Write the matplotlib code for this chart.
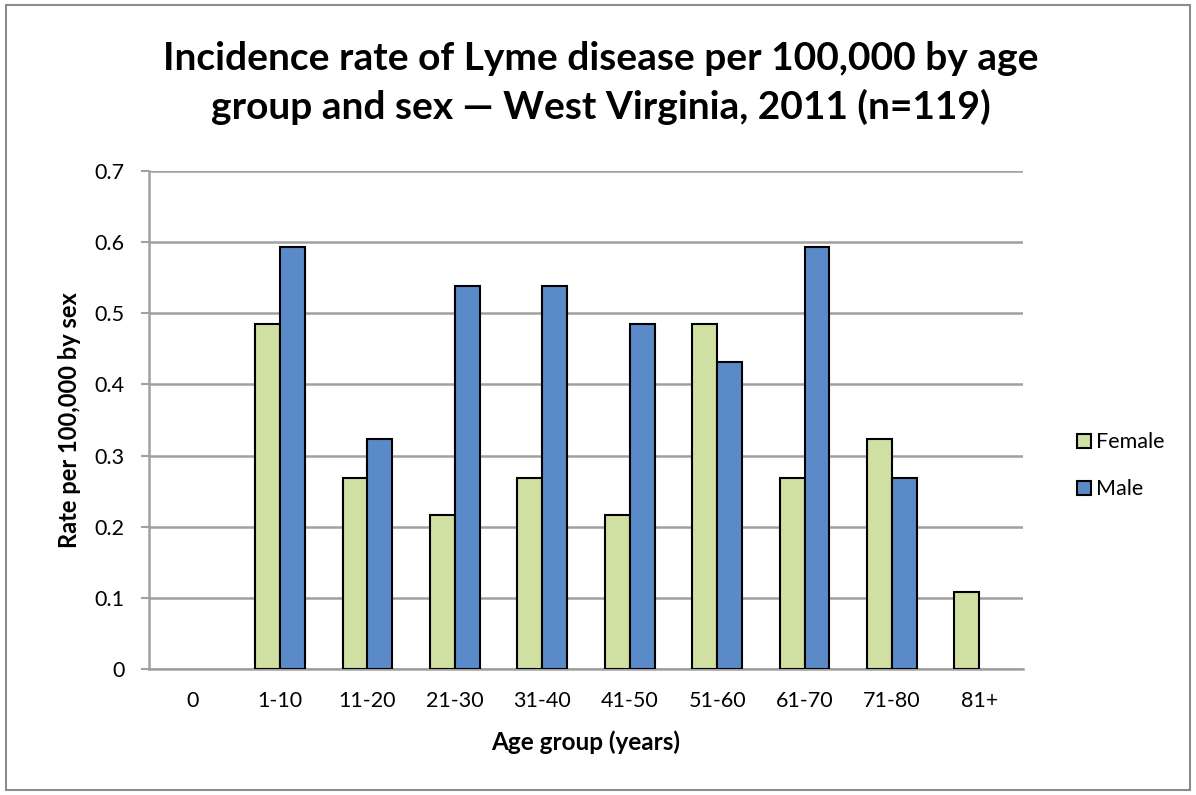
import matplotlib
matplotlib.use("Agg")
import matplotlib.pyplot as plt
import numpy as np
from matplotlib.patches import Rectangle, Patch

# rates per 100,000
age_groups = ['0', '1-10', '11-20', '21-30', '31-40', '41-50', '51-60', '61-70', '71-80', '81+']
female = [0, 0.485, 0.269, 0.216, 0.269, 0.216, 0.485, 0.269, 0.323, 0.108]
male = [0, 0.593, 0.323, 0.539, 0.539, 0.485, 0.431, 0.593, 0.269, 0]
y_ticks = [0, 0.1, 0.2, 0.3, 0.4, 0.5, 0.6, 0.7]
y_tick_labels = ['0', '0.1', '0.2', '0.3', '0.4', '0.5', '0.6', '0.7']
title_lines = ['Incidence rate of Lyme disease per 100,000 by age',
               'group and sex \u2014 West Virginia, 2011 (n=119)']

plt.rcParams['font.family'] = ['Lato', 'DejaVu Sans']

fig = plt.figure(figsize=(11.96, 7.95), dpi=100)
# outer frame like the excel chart area
fig.patches.append(Rectangle((6/1196, 5/795), 1184/1196, 785/795, transform=fig.transFigure,
                             fill=False, edgecolor='#8c8c8c', linewidth=1.5))

ax = fig.add_axes([149/1196, 1 - 669/795, 874/1196, 498/795])

x = np.arange(len(age_groups))
w = 0.286
fc = '#CFE0A2'
mc = '#5A8AC8'
# no outline on empty bars
flw = [1.5 if v > 0 else 0 for v in female]
mlw = [1.5 if v > 0 else 0 for v in male]
ax.bar(x - w/2, female, w, color=fc, edgecolor='black', linewidth=flw, zorder=3)
ax.bar(x + w/2, male, w, color=mc, edgecolor='black', linewidth=mlw, zorder=3)

ax.set_xlim(-0.5, len(age_groups) - 0.5)
ax.set_ylim(0, 0.7)
ax.set_yticks(y_ticks)
ax.set_yticklabels(y_tick_labels, fontsize=15.5)
ax.set_xticks(x)
ax.set_xticklabels(age_groups, fontsize=15.5)
ax.tick_params(axis='x', length=0, pad=16)
ax.tick_params(axis='y', length=5.5, width=1.5, color='#a0a0a0', pad=12)
ax.yaxis.grid(True, color='#a0a0a0', linewidth=1.8, zorder=0)
for s in ['top', 'right']:
    ax.spines[s].set_visible(False)
for s in ['left', 'bottom']:
    ax.spines[s].set_color('#a0a0a0')
    ax.spines[s].set_linewidth(1.8)

ax.set_xlabel('Age group (years)', fontsize=17.5, fontweight='bold', labelpad=14)
ax.set_ylabel('Rate per 100,000 by sex', fontsize=17, fontweight='bold', labelpad=10)

# two title lines placed separately to match the spacing
fig.text(0.5025, 1 - 58/795, title_lines[0], ha='center', va='center', fontsize=28, fontweight='bold')
fig.text(0.5025, 1 - 107/795, title_lines[1], ha='center', va='center', fontsize=28, fontweight='bold')

handles = [Patch(facecolor=fc, edgecolor='black', linewidth=1.5, label='Female'),
           Patch(facecolor=mc, edgecolor='black', linewidth=1.5, label='Male')]
ax.legend(handles=handles, loc='center left', bbox_to_anchor=(1.062, 0.408), frameon=False,
          fontsize=15.5, borderpad=0, borderaxespad=0, handlelength=0.62, handleheight=0.62,
          handletextpad=0.25, labelspacing=1.25)

fig.savefig('out.png', dpi=100)
